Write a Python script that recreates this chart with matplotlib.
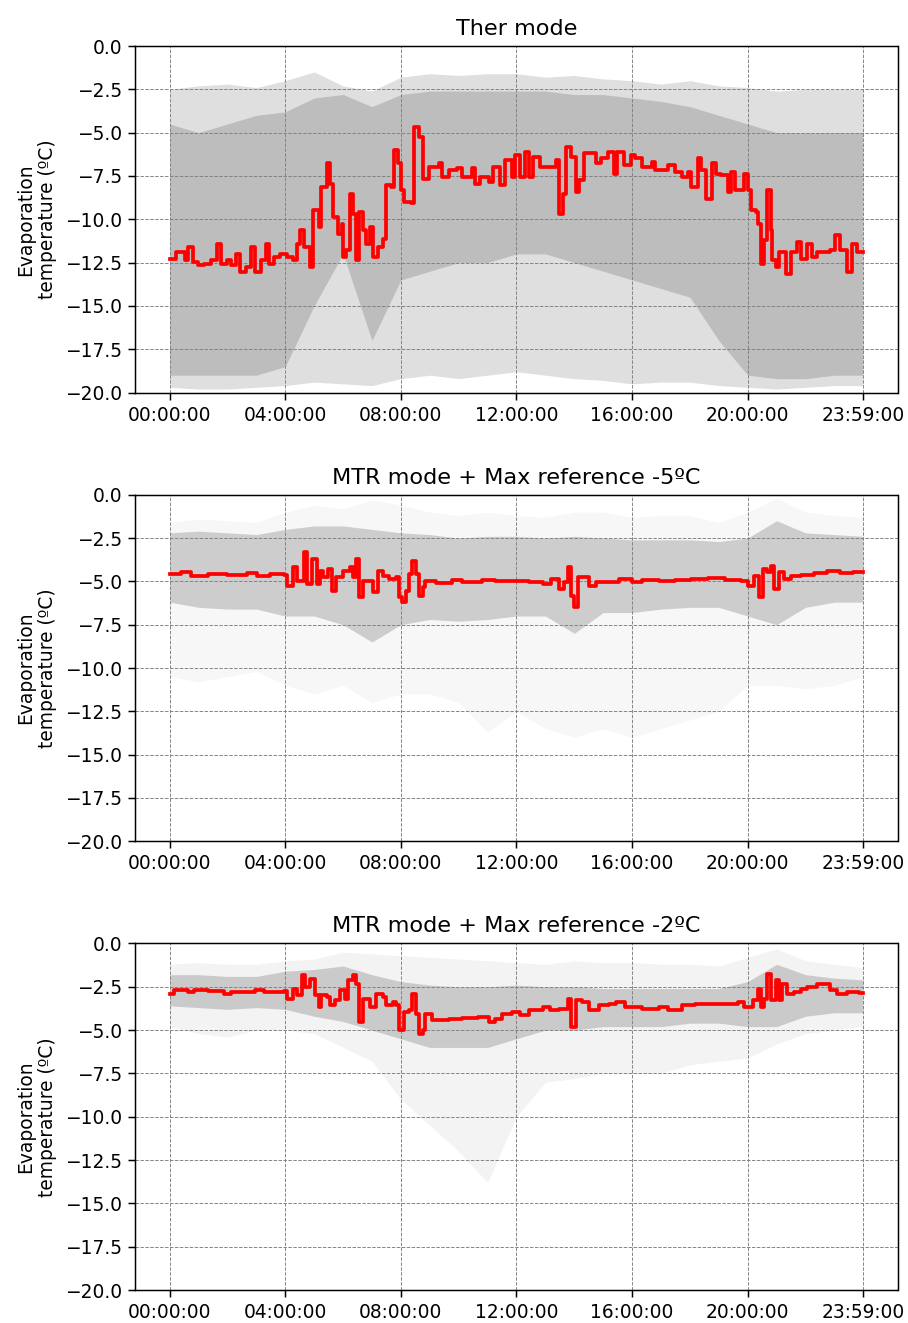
import numpy as np
import matplotlib
matplotlib.use("Agg")
import matplotlib.pyplot as plt

# time axis in minutes after midnight
tick_pos = [0, 240, 480, 720, 960, 1200, 1439]
tick_labels = ["00:00:00", "04:00:00", "08:00:00", "12:00:00",
               "16:00:00", "20:00:00", "23:59:00"]

# hourly envelope of the daily traces (last point is 23:59)
env_t = [0, 60, 120, 180, 240, 300, 360, 420, 480, 540, 600, 660, 720,
         780, 840, 900, 960, 1020, 1080, 1140, 1200, 1260, 1320, 1380, 1439]

# --- Ther mode ---
ther_t = [0, 14, 24, 31, 38, 48, 58, 72, 86, 99, 106, 120, 127, 137, 147, 158,
          168, 178, 189, 199, 206, 216, 230, 243, 257, 264, 271, 278, 291, 298,
          309, 315, 326, 333, 339, 350, 357, 360, 367, 374, 381, 387, 394, 401,
          408, 415, 422, 432, 442, 449, 459, 466, 473, 480, 487, 501, 507, 518,
          525, 538, 559, 566, 579, 597, 607, 627, 634, 645, 662, 672, 686, 696,
          710, 717, 727, 737, 747, 754, 768, 795, 802, 809, 816, 823, 833, 843,
          850, 861, 885, 895, 909, 922, 929, 943, 957, 967, 981, 1001, 1008,
          1022, 1035, 1049, 1063, 1077, 1083, 1097, 1104, 1114, 1125, 1135,
          1145, 1159, 1166, 1173, 1186, 1193, 1200, 1207, 1217, 1221, 1227,
          1234, 1241, 1248, 1251, 1258, 1265, 1279, 1289, 1303, 1310, 1323,
          1334, 1344, 1371, 1382, 1392, 1406, 1416, 1426, 1439]
ther_mean = [-12.27, -11.89, -11.89, -12.37, -11.6, -12.47, -12.66, -12.56,
             -12.37, -11.41, -12.56, -12.37, -12.66, -11.99, -13.05, -12.76,
             -11.6, -13.05, -12.37, -11.41, -12.56, -12.18, -11.99, -12.18,
             -12.37, -11.41, -10.64, -11.6, -12.76, -9.48, -10.44, -8.13,
             -6.78, -7.94, -9.87, -10.83, -10.25, -12.18, -11.79, -8.52, -9.67,
             -12.37, -9.58, -10.64, -11.41, -10.44, -12.18, -11.6, -11.12,
             -8.03, -8.13, -6.01, -6.78, -8.32, -8.99, -9.09, -4.66, -5.24,
             -7.65, -6.97, -6.78, -7.55, -7.17, -7.07, -7.55, -7.07, -7.94,
             -7.55, -7.84, -6.97, -8.03, -6.59, -7.55, -6.3, -7.55, -6.11,
             -7.55, -6.4, -6.97, -6.97, -6.59, -9.67, -8.52, -5.82, -6.4,
             -8.42, -7.75, -6.2, -6.78, -6.49, -6.11, -7.36, -6.11, -6.88,
             -6.3, -6.49, -6.97, -6.69, -7.17, -7.17, -6.88, -7.26, -7.55,
             -7.26, -8.13, -6.49, -7.17, -8.82, -6.78, -7.36, -7.46, -8.42,
             -7.26, -8.32, -8.32, -7.36, -8.32, -9.48, -9.58, -10.25, -12.56,
             -11.21, -8.32, -10.64, -12.37, -12.76, -11.89, -13.14, -11.89,
             -11.31, -12.27, -11.41, -12.18, -11.89, -11.79, -10.93, -11.79,
             -13.05, -11.41, -11.89, -11.89]
ther_outer_hi = [-2.5, -2.3, -2.2, -2.4, -2.0, -1.5, -2.3, -2.6, -1.8, -1.6,
                 -1.7, -1.6, -1.6, -1.8, -1.7, -1.9, -2.0, -2.2, -2.0, -2.3,
                 -2.4, -2.6, -2.5, -2.5, -2.5]
ther_outer_lo = [-19.7, -19.8, -19.8, -19.7, -19.6, -19.4, -19.5, -19.6,
                 -19.2, -19.0, -19.2, -19.0, -18.8, -19.0, -19.2, -19.3,
                 -19.5, -19.4, -19.4, -19.6, -19.7, -19.8, -19.7, -19.6, -19.6]
ther_core_hi = [-4.5, -5.0, -4.5, -4.0, -3.8, -3.0, -2.8, -3.5, -2.8, -2.6,
                -2.6, -2.6, -2.6, -2.6, -2.8, -2.8, -3.0, -3.2, -3.5, -4.0,
                -4.5, -5.0, -5.0, -5.0, -5.0]
ther_core_lo = [-19.0, -19.0, -19.0, -19.0, -18.5, -15.0, -12.0, -17.0,
                -13.5, -13.0, -12.5, -12.5, -12.0, -12.0, -12.5, -13.0,
                -13.5, -14.0, -14.5, -17.0, -19.0, -19.2, -19.2, -19.0, -19.0]

# --- MTR mode, max reference -5ºC ---
mtr5_t = [0, 24, 45, 79, 120, 161, 182, 209, 237, 243, 257, 264, 278, 285,
          295, 305, 312, 319, 329, 336, 346, 360, 374, 381, 387, 394, 401,
          422, 432, 442, 456, 470, 477, 483, 490, 497, 504, 511, 518, 525,
          531, 552, 586, 607, 648, 675, 703, 727, 747, 775, 792, 809, 819,
          826, 833, 840, 847, 871, 885, 933, 960, 981, 1015, 1049, 1083,
          1118, 1152, 1186, 1200, 1214, 1224, 1231, 1241, 1248, 1255, 1265,
          1275, 1289, 1310, 1337, 1365, 1392, 1419, 1439]
mtr5_mean = [-4.57, -4.48, -4.67, -4.57, -4.63, -4.53, -4.67, -4.57, -4.61,
             -5.24, -4.19, -4.96, -3.32, -5.15, -3.71, -5.15, -4.38, -4.77,
             -4.29, -5.53, -4.77, -4.38, -4.19, -4.77, -3.71, -5.92, -4.96,
             -5.63, -4.38, -4.67, -4.86, -4.77, -5.92, -6.2, -5.53, -4.57,
             -3.8, -4.57, -5.82, -5.34, -4.96, -5.11, -4.92, -5.05, -4.9,
             -4.96, -5.0, -4.96, -5.05, -5.15, -4.86, -5.44, -5.05, -4.19,
             -5.82, -6.49, -4.77, -5.24, -5.05, -4.86, -5.05, -4.92, -5.0,
             -4.92, -4.86, -4.82, -4.92, -4.96, -5.24, -4.67, -5.92, -4.29,
             -4.48, -4.09, -5.44, -4.48, -4.86, -4.67, -4.61, -4.53, -4.42,
             -4.53, -4.48, -4.48]
mtr5_outer_hi = [-1.6, -1.4, -1.5, -1.6, -1.0, -0.6, -0.8, -0.3, -0.6, -1.0,
                 -1.2, -1.0, -1.2, -1.3, -1.0, -1.0, -1.3, -1.2, -1.2, -1.6,
                 -1.0, -0.2, -1.0, -1.2, -1.3]
mtr5_core_hi = [-2.2, -2.1, -2.2, -2.3, -2.0, -1.8, -1.8, -2.0, -2.2, -2.3,
                -2.5, -2.4, -2.4, -2.5, -2.4, -2.5, -2.6, -2.6, -2.6, -2.7,
                -2.5, -1.5, -2.2, -2.3, -2.4]
mtr5_core_lo = [-6.2, -6.5, -6.6, -6.6, -7.0, -7.0, -7.5, -8.5, -7.5, -7.2,
                -7.3, -7.2, -7.0, -7.0, -8.0, -6.8, -6.8, -6.6, -6.5, -6.5,
                -7.0, -7.5, -6.5, -6.2, -6.2]
mtr5_outer_lo = [-10.5, -10.8, -10.5, -10.2, -11.0, -11.5, -11.0, -12.0,
                 -11.5, -11.5, -12.0, -13.7, -12.5, -13.5, -14.0, -13.5,
                 -14.0, -13.5, -13.0, -12.5, -11.0, -11.0, -11.2, -11.0, -10.5]

# --- MTR mode, max reference -2ºC ---
mtr2_t = [0, 10, 17, 38, 51, 79, 113, 127, 178, 195, 237, 243, 257, 264,
          274, 281, 291, 302, 309, 315, 326, 333, 343, 353, 363, 370, 381,
          387, 393, 401, 415, 429, 442, 449, 463, 470, 477, 487, 497, 504,
          511, 518, 525, 531, 545, 579, 607, 641, 662, 675, 689, 710, 727,
          747, 775, 789, 809, 826, 833, 843, 857, 871, 891, 912, 926, 946,
          981, 1015, 1035, 1063, 1090, 1118, 1152, 1179, 1193, 1210, 1221,
          1227, 1234, 1241, 1248, 1258, 1265, 1272, 1282, 1296, 1310, 1323,
          1344, 1358, 1371, 1385, 1406, 1430, 1439]
mtr2_mean = [-2.9, -2.71, -2.67, -2.8, -2.67, -2.75, -2.94, -2.8, -2.71,
             -2.82, -2.75, -3.19, -2.61, -2.99, -1.84, -2.52, -2.04, -2.99,
             -3.67, -2.99, -3.09, -3.57, -3.28, -2.71, -3.19, -2.13, -1.84,
             -2.32, -4.53, -3.19, -3.67, -2.9, -3.09, -3.57, -3.38, -3.57,
             -5.01, -3.96, -3.86, -2.9, -4.05, -5.21, -5.01, -4.05, -4.4,
             -4.34, -4.28, -4.24, -4.53, -4.34, -4.05, -3.96, -4.15, -3.86,
             -3.67, -3.86, -3.76, -3.19, -4.82, -3.28, -3.38, -3.86, -3.57,
             -3.48, -3.38, -3.67, -3.76, -3.67, -3.82, -3.57, -3.48, -3.48,
             -3.52, -3.38, -3.67, -3.28, -2.61, -3.67, -3.19, -1.75, -3.28,
             -2.13, -3.28, -2.32, -2.9, -2.8, -2.61, -2.52, -2.32, -2.32,
             -2.71, -2.9, -2.8, -2.86, -2.86]
mtr2_outer_hi = [-1.2, -1.1, -1.2, -1.2, -1.0, -0.9, -0.5, -0.6, -0.7, -0.8,
                 -0.9, -1.0, -1.1, -1.2, -1.0, -1.1, -1.1, -1.2, -1.2, -1.3,
                 -0.8, -0.3, -1.0, -1.2, -1.4]
mtr2_core_hi = [-1.8, -1.8, -1.9, -1.9, -1.6, -1.5, -1.3, -1.8, -2.2, -2.4,
                -2.5, -2.5, -2.4, -2.5, -2.5, -2.6, -2.6, -2.6, -2.6, -2.6,
                -2.2, -1.2, -1.8, -2.0, -2.1]
mtr2_core_lo = [-3.6, -3.7, -3.8, -3.7, -3.8, -4.2, -4.5, -5.0, -5.5, -6.0,
                -6.0, -6.0, -5.5, -5.0, -5.0, -4.8, -4.8, -4.8, -4.6, -4.6,
                -4.8, -4.8, -4.2, -4.0, -4.0]
mtr2_outer_lo = [-4.8, -5.2, -5.4, -5.0, -5.0, -5.2, -6.0, -6.8, -9.0, -10.5,
                 -12.0, -13.8, -10.0, -8.0, -7.8, -7.5, -7.5, -7.5, -7.0,
                 -6.8, -6.6, -5.8, -5.2, -5.0, -4.8]

panels = [
    ("Ther mode", ther_t, ther_mean, ther_outer_hi, ther_outer_lo,
     ther_core_hi, ther_core_lo, 0.25),
    ("MTR mode + Max reference -5ºC", mtr5_t, mtr5_mean, mtr5_outer_hi,
     mtr5_outer_lo, mtr5_core_hi, mtr5_core_lo, 0.06),
    ("MTR mode + Max reference -2ºC", mtr2_t, mtr2_mean, mtr2_outer_hi,
     mtr2_outer_lo, mtr2_core_hi, mtr2_core_lo, 0.09),
]

fig, axes = plt.subplots(3, 1, figsize=(908 / 134, 1323 / 134), dpi=134)
fig.subplots_adjust(left=135 / 908, right=897.5 / 908, top=1 - 46 / 1323,
                    bottom=1 - 1290 / 1323, hspace=0.295)

for ax, (title, t, mean, o_hi, o_lo, c_hi, c_lo, o_alpha) in zip(axes, panels):
    # spread of all daily traces, light outer band and denser core
    ax.fill_between(env_t, o_lo, o_hi, color="grey", alpha=o_alpha,
                    linewidth=0)
    ax.fill_between(env_t, c_lo, c_hi, color="grey", alpha=0.35,
                    linewidth=0)
    ax.plot(t, mean, color="red", linewidth=2, drawstyle="steps-post")
    ax.set_ylim(-20, 0)
    ax.set_xticks(tick_pos)
    ax.set_xticklabels(tick_labels)
    ax.set_title(title)
    ax.set_ylabel("Evaporation\ntemperature (ºC)")
    ax.grid(True, linestyle="--", linewidth=0.5, color="grey")

plt.savefig("out.png")
